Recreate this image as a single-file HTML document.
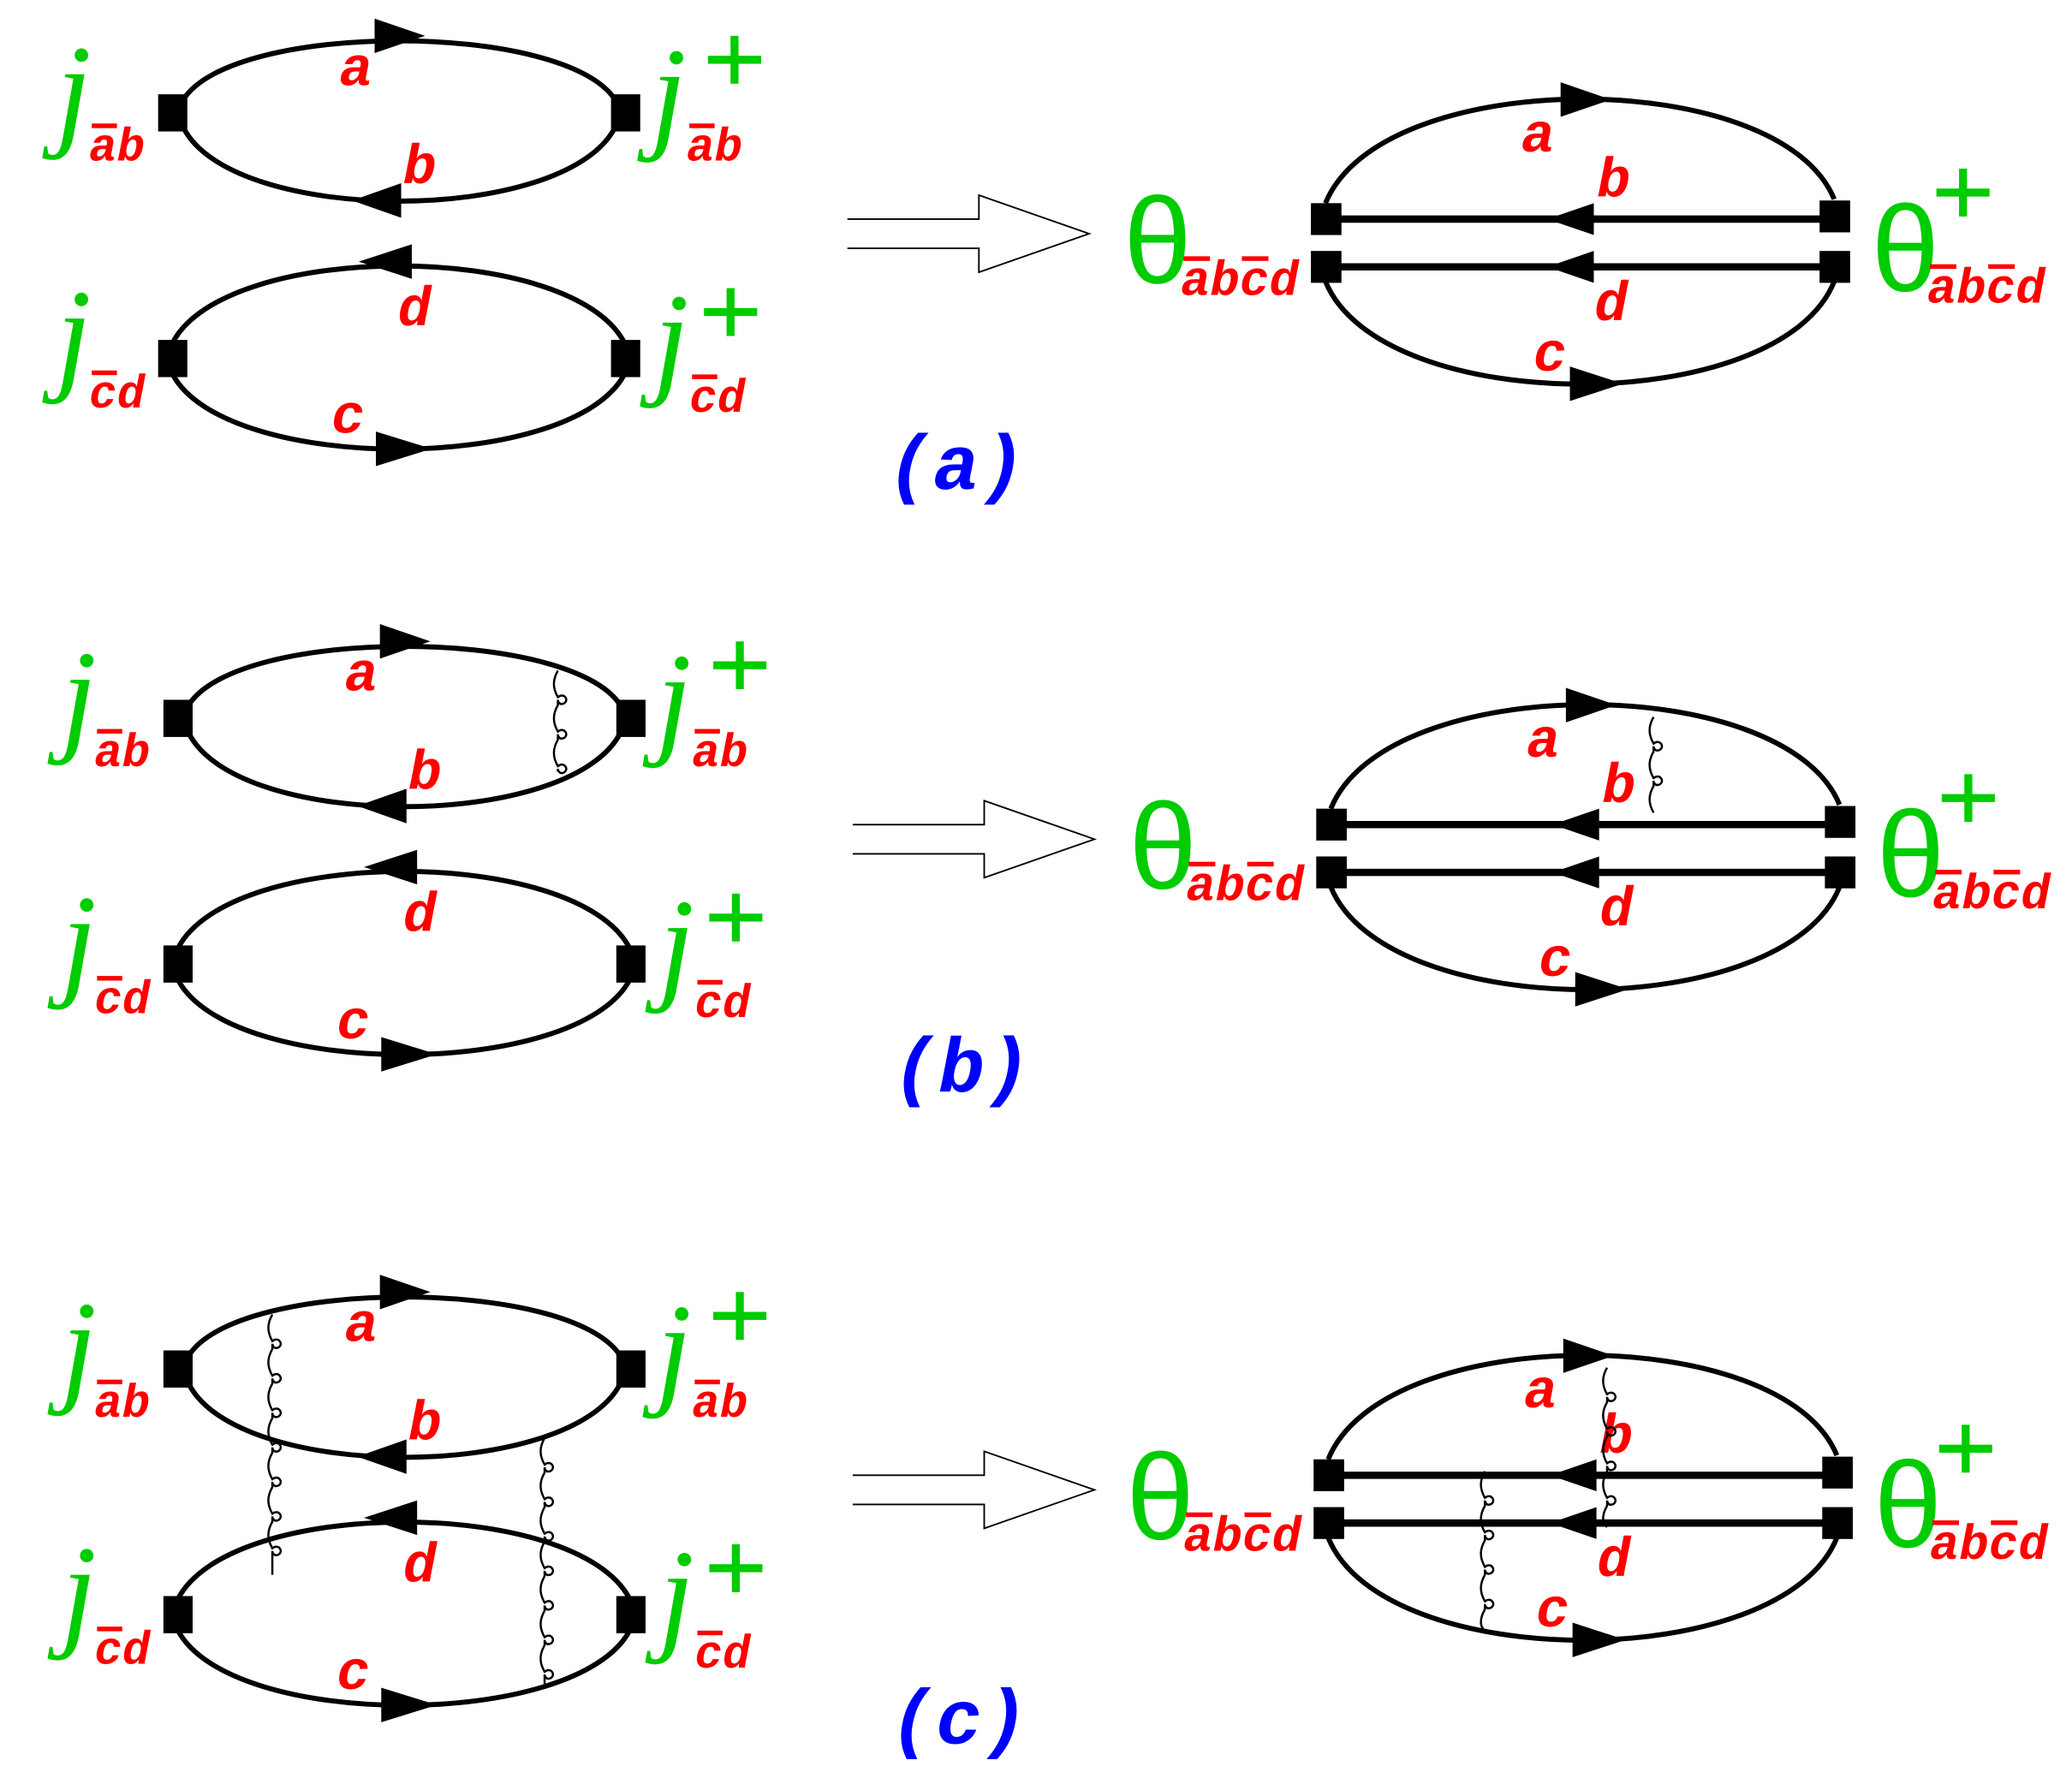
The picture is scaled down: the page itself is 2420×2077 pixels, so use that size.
<!DOCTYPE html>
<html><head><meta charset="utf-8"><style>
html,body{margin:0;padding:0;background:#fff}
svg{display:block}
.l{font-family:"Liberation Mono",monospace;font-weight:bold;font-style:italic;fill:#f00;font-size:42px;text-anchor:middle}
.s{font-family:"Liberation Mono",monospace;font-weight:bold;font-style:italic;fill:#f00;font-size:35px}
.s2{font-family:"Liberation Mono",monospace;font-weight:bold;font-style:italic;fill:#f00;font-size:37px}
.j{font-family:"Liberation Serif",serif;font-style:italic;fill:#0c0;font-size:96px}
.t{font-family:"Liberation Sans","DejaVu Sans",sans-serif;fill:#0c0;font-size:92px}
.p{stroke:#0c0;stroke-width:6}
.f{fill:none;stroke:#000;stroke-width:3.8}
.g{fill:none;stroke:#000;stroke-width:1.6}
.cap{font-family:"Liberation Mono",monospace;font-weight:bold;font-style:italic;fill:#00f;font-size:58px;text-anchor:middle}
</style></head><body>
<svg width="2420" height="2077" viewBox="0 0 1560 1339" xmlns="http://www.w3.org/2000/svg">
<defs>
<g id="L">
<path class="f" d="M138,75 C175,16 425,16 463,75"/>
<path class="f" d="M138,96 C175,170 425,170 463,96"/>
<polygon points="320,27 282,14 282,40"/>
<polygon points="265,151 302,138 302,164"/>
<path class="f" d="M130,258 C170,181 430,181 470,258"/>
<path class="f" d="M130,282 C170,357 430,357 470,282"/>
<polygon points="270,197 310,184 310,210"/>
<polygon points="325,338 283,325 283,351"/>
<rect x="119" y="71" width="22" height="28"/><rect x="460" y="71" width="22" height="28"/>
<rect x="119" y="256" width="22" height="28"/><rect x="460" y="256" width="22" height="28"/>
<text class="l" x="268" y="64">a</text><text class="l" x="316" y="138">b</text>
<text class="l" x="312" y="245">d</text><text class="l" x="262" y="326">c</text>
<text class="j" x="42" y="100">j</text>
<text class="s" x="67" y="121">ab</text><rect x="69" y="93" width="19" height="3.5" fill="#f00"/>
<text class="j" x="490" y="102">j</text>
<text class="s" x="517" y="121">ab</text><rect x="519" y="93" width="19" height="3.5" fill="#f00"/>
<line class="p" x1="533" y1="45" x2="573" y2="45"/><line class="p" x1="553" y1="27" x2="553" y2="63"/>
<text class="j" x="42" y="284">j</text>
<text class="s" x="67" y="307">cd</text><rect x="69" y="279" width="19" height="3.5" fill="#f00"/>
<text class="j" x="492" y="287">j</text>
<text class="s" x="519" y="310">cd</text><rect x="521" y="282" width="19" height="3.5" fill="#f00"/>
<line class="p" x1="530" y1="235" x2="570" y2="235"/><line class="p" x1="550" y1="217" x2="550" y2="253"/>
<path d="M638,165 H737 V147 L820,176 L737,205 V187 H638" fill="none" stroke="#000" stroke-width="1.2"/>
</g>
<g id="R">
<path class="f" d="M998,153 C1040,49 1340,49 1381,150"/>
<path class="f" d="M998,212 C1040,315 1340,315 1381,212"/>
<polygon points="1213,75 1175,62 1175,88"/>
<polygon points="1222,289 1182,276 1182,302"/>
<line x1="998" y1="165" x2="1381" y2="165" stroke="#000" stroke-width="5.5"/>
<line x1="998" y1="201" x2="1381" y2="201" stroke="#000" stroke-width="5.5"/>
<polygon points="1165,165 1200,153 1200,177"/>
<polygon points="1165,201 1200,189 1200,213"/>
<rect x="987" y="153" width="23" height="24"/><rect x="987" y="189" width="23" height="24"/>
<rect x="1370" y="151" width="23" height="24"/><rect x="1370" y="189" width="23" height="24"/>
<text class="l" x="1158" y="114">a</text><text class="l" x="1215" y="148">b</text>
<text class="l" x="1213" y="241">d</text><text class="l" x="1167" y="279">c</text>
<text class="t" x="846" y="213">θ</text>
<text class="s2" x="889" y="222">abcd</text><rect x="891" y="193" width="20" height="3.5" fill="#f00"/><rect x="935" y="193" width="20" height="3.5" fill="#f00"/>
<text class="t" x="1409" y="219">θ</text>
<text class="s2" x="1451" y="228">abcd</text><rect x="1453" y="199" width="20" height="3.5" fill="#f00"/><rect x="1497" y="199" width="20" height="3.5" fill="#f00"/>
<line class="p" x1="1458" y1="145" x2="1498" y2="145"/><line class="p" x1="1478" y1="127" x2="1478" y2="163"/>
</g>
</defs>
<use href="#L"/><use href="#R"/>
<text class="cap" x="720" y="368">(a)</text>
<g transform="translate(4,456)"><use href="#L"/><use href="#R"/>
<path class="g" d="M416,49 c-4,7 -4,13 0,20 c5,-4 9,3 4,5 c-3,1 -4,-2 -4,-3 l0,4 c-4,7 -4,13 0,20 c5,-4 9,3 4,5 c-3,1 -4,-2 -4,-3 l0,4 c-4,7 -4,13 0,20 c5,-4 9,3 4,5 c-3,1 -4,-2 -4,-3 l0,2"/>
<path class="g" d="M1241,84 c-4,7 -4,13 0,20 c5,-4 9,3 4,5 c-3,1 -4,-2 -4,-3 l0,4 c-4,7 -4,13 0,20 c5,-4 9,3 4,5 c-3,1 -4,-2 -4,-3 l0,4 c-4,7 -4,13 0,20"/>
</g>
<text class="cap" x="724" y="822">(b)</text>
<g transform="translate(4,946)"><use href="#L"/>
<path class="g" d="M201,44 c-4,7 -4,13 0,20 c5,-4 9,3 4,5 c-3,1 -4,-2 -4,-3 l0,4 c-4,7 -4,13 0,20 c5,-4 9,3 4,5 c-3,1 -4,-2 -4,-3 l0,4 c-4,7 -4,13 0,20 c5,-4 9,3 4,5 c-3,1 -4,-2 -4,-3 l0,4 c-4,7 -4,13 0,20 c5,-4 9,3 4,5 c-3,1 -4,-2 -4,-3 l0,4 c-4,7 -4,13 0,20 c5,-4 9,3 4,5 c-3,1 -4,-2 -4,-3 l0,4 c-4,7 -4,13 0,20 c5,-4 9,3 4,5 c-3,1 -4,-2 -4,-3 l0,4 c-4,7 -4,13 0,20 c5,-4 9,3 4,5 c-3,1 -4,-2 -4,-3 l0,4 l0,14"/>
<path class="g" d="M406,137 c-4,7 -4,13 0,20 c5,-4 9,3 4,5 c-3,1 -4,-2 -4,-3 l0,4 c-4,7 -4,13 0,20 c5,-4 9,3 4,5 c-3,1 -4,-2 -4,-3 l0,4 c-4,7 -4,13 0,20 c5,-4 9,3 4,5 c-3,1 -4,-2 -4,-3 l0,4 c-4,7 -4,13 0,20 c5,-4 9,3 4,5 c-3,1 -4,-2 -4,-3 l0,4 c-4,7 -4,13 0,20 c5,-4 9,3 4,5 c-3,1 -4,-2 -4,-3 l0,4 c-4,7 -4,13 0,20 c5,-4 9,3 4,5 c-3,1 -4,-2 -4,-3 l0,4 c-4,7 -4,13 0,20 c5,-4 9,3 4,5 c-3,1 -4,-2 -4,-3 l0,4 l0,5"/>
</g>
<g transform="translate(2,946)"><use href="#R"/>
<path class="g" d="M1208,84 c-4,7 -4,13 0,20 c5,-4 9,3 4,5 c-3,1 -4,-2 -4,-3 l0,4 c-4,7 -4,13 0,20 c5,-4 9,3 4,5 c-3,1 -4,-2 -4,-3 l0,4 c-4,7 -4,13 0,20 c5,-4 9,3 4,5 c-3,1 -4,-2 -4,-3 l0,4 c-4,7 -4,13 0,20 c5,-4 9,3 4,5 c-3,1 -4,-2 -4,-3 l0,4 c-4,7 -4,13 0,16"/>
<path class="g" d="M1116,162 c-4,7 -4,13 0,20 c5,-4 9,3 4,5 c-3,1 -4,-2 -4,-3 l0,4 c-4,7 -4,13 0,20 c5,-4 9,3 4,5 c-3,1 -4,-2 -4,-3 l0,4 c-4,7 -4,13 0,20 c5,-4 9,3 4,5 c-3,1 -4,-2 -4,-3 l0,4 c-4,7 -4,13 0,20 c5,-4 9,3 4,5 c-3,1 -4,-2 -4,-3 l0,4 c-4,7 -4,13 0,16"/>
</g>
<text class="cap" x="722" y="1313">(c)</text>
</svg>
</body></html>
